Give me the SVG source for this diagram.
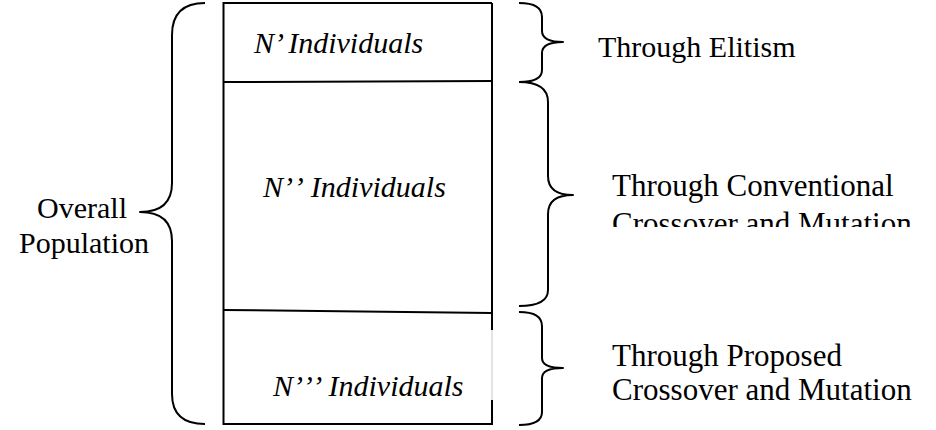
<svg xmlns="http://www.w3.org/2000/svg" width="936" height="430" viewBox="0 0 936 430">
  <style>
    .edge { fill: none; stroke: #000; stroke-width: 2; }
    .brace { fill: none; stroke: #000; stroke-width: 2; stroke-linejoin: round; }
    .label { font-family: "Liberation Serif", "Times New Roman", serif; font-size: 30px; fill: #000; }
    .side { font-size: 31px; }
    .count { font-family: "Liberation Serif", "Times New Roman", serif; font-size: 30px; font-style: italic; fill: #000; }
  </style>
  <defs>
    <clipPath id="cut-line">
      <rect x="590" y="150" width="346" height="77"/>
    </clipPath>
  </defs>
  <rect width="936" height="430" fill="#fff"/>

  <!-- population column split into three parts -->
  <g id="population-box">
    <path class="edge" d="M492,3 L223.5,3 L223.5,424 L492,424 L492,400"/>
    <path class="edge" d="M492,3 L492,330"/>
    <path d="M492,330 L492,400" stroke="#e4e4e4" stroke-width="2" fill="none"/>
  </g>
  <g id="part-elitism">
    <text class="count" x="254" y="53">N’ Individuals</text>
  </g>
  <g id="part-conventional">
    <path class="edge" d="M223.5,82 L492,81"/>
    <text class="count" x="263" y="197">N’<tspan dx="4">’</tspan><tspan dx="3"> Individuals</tspan></text>
  </g>
  <g id="part-proposed">
    <path class="edge" d="M223.5,310 L492,313"/>
    <text class="count" x="273" y="396">N’<tspan dx="3">’</tspan><tspan dx="3">’</tspan><tspan dx="2"> Individuals</tspan></text>
  </g>

  <!-- curly braces -->
  <g id="braces">
    <path class="brace" d="M205,3 Q172,3 172,35 L172,183 Q172,212 140,212 Q172,212 172,241 L172,394 Q172,424 205,424"/>
    <path class="brace" d="M519,3 Q542,3 542,17 L542,31 Q542,42 563,42 Q542,42 542,53 L542,70 Q542,82 519,82"/>
    <path class="brace" d="M519,82 Q548,82 548,102 L548,176 Q548,195 573,195 Q548,195 548,214 L548,290 Q548,306 519,306"/>
    <path class="brace" d="M519,312 Q542,312 542,326 L542,358 Q542,368 563,368 Q542,368 542,378 L542,412 Q542,425 519,425"/>
  </g>

  <!-- side labels -->
  <g id="label-overall">
    <text class="label" x="82" y="218" text-anchor="middle">Overall</text>
    <text class="label" x="84" y="253" text-anchor="middle">Population</text>
  </g>
  <g id="label-elitism">
    <text class="label" x="598" y="57">Through Elitism</text>
  </g>
  <g id="label-conventional">
    <text class="label side" x="612" y="196">Through Conventional</text>
    <text class="label side" x="612" y="234" clip-path="url(#cut-line)">Crossover and Mutation</text>
  </g>
  <g id="label-proposed">
    <text class="label side" x="612" y="366">Through Proposed</text>
    <text class="label side" x="612" y="400">Crossover and Mutation</text>
  </g>
</svg>
